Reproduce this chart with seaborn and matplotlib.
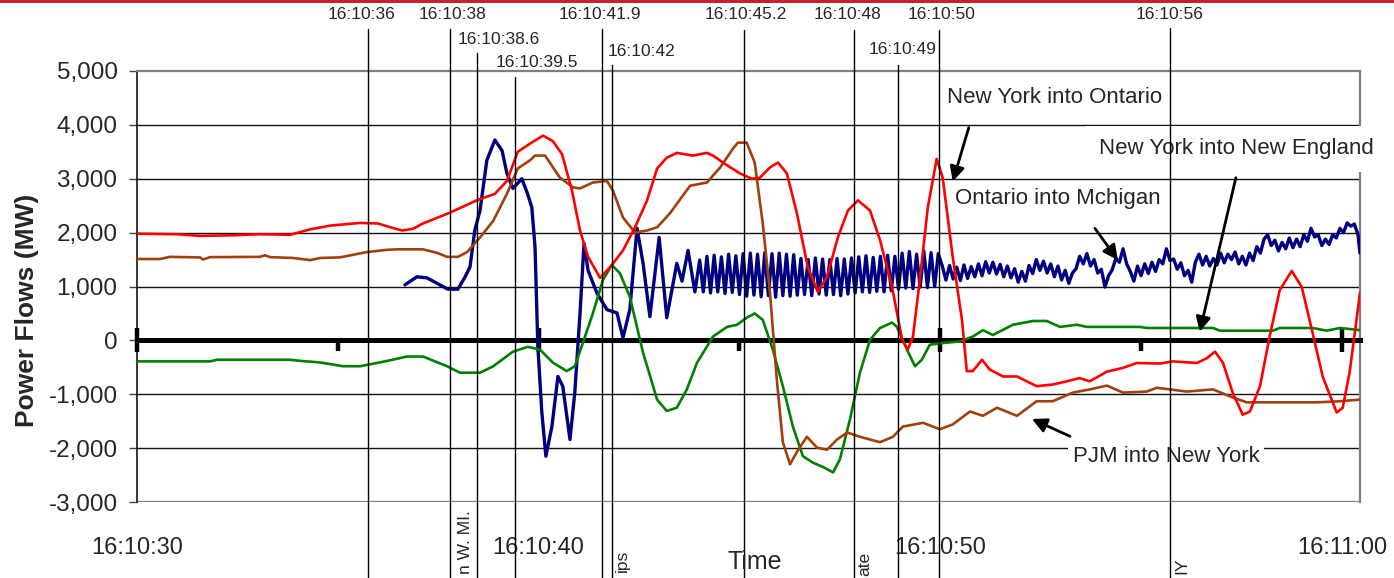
import numpy as np
import seaborn as sns
import matplotlib.pyplot as plt
import matplotlib.transforms as mtransforms
from matplotlib.patches import Rectangle
from matplotlib.ticker import FuncFormatter, FixedLocator

# time = seconds after 16:10:00, flows in MW
red_t = [30.00, 31.00, 31.57, 32.32, 33.06, 33.81, 34.31, 34.81, 35.55, 36.00, 36.30, 36.60, 36.87,
         37.12, 37.79, 38.46, 38.91, 39.21, 39.48, 39.78, 40.11, 40.35, 40.58, 40.83, 41.03, 41.23,
         41.53, 41.78, 42.10, 42.40, 42.70, 42.95, 43.19, 43.44, 43.84, 44.19, 44.34, 44.69, 45.01,
         45.31, 45.51, 45.76, 45.96, 46.18, 46.43, 46.70, 46.95, 47.18, 47.45, 47.70, 47.95, 48.25,
         48.50, 48.80, 49.05, 49.19, 49.32, 49.49, 49.69, 49.91, 50.06, 50.31, 50.54, 50.66, 50.81,
         51.04, 51.23, 51.56, 51.91, 52.40, 52.80, 53.15, 53.47, 53.72, 54.15, 54.55, 54.89, 55.47,
         55.79, 56.39, 56.64, 56.84, 57.04, 57.28, 57.53, 57.71, 57.96, 58.20, 58.45, 58.75, 59.00,
         59.27, 59.52, 59.87, 60.02, 60.19, 60.45]
red_v = [1980, 1970, 1940, 1950, 1970, 1960, 2060, 2130, 2180, 2170, 2100, 2040, 2070,
         2170, 2370, 2600, 2720, 2960, 3500, 3650, 3800, 3700, 3460, 2780, 2040, 1550,
         1160, 1360, 1670, 2100, 2600, 3190, 3390, 3480, 3430, 3480, 3430, 3250, 3100,
         3000, 3020, 3210, 3300, 3100, 2360, 1360, 900, 1180, 1910, 2410, 2600, 2410,
         1860, 990, 10, -170, 70, 1120, 2470, 3370, 3020, 1550, 380, -570, -570,
         -360, -540, -670, -670, -850, -820, -760, -700, -760, -580, -510, -420, -430,
         -390, -420, -330, -210, -420, -970, -1380, -1320, -850, 70, 930, 1290, 990,
         140, -670, -1340, -1250, -600, 880]

brown_t = [30.00, 30.57, 30.82, 31.57, 31.64, 31.82, 33.06, 33.19, 33.31, 33.88, 34.31, 34.56,
           35.05, 35.73, 36.22, 36.47, 37.12, 37.49, 37.72, 37.99, 38.22, 38.54, 38.87, 39.21,
           39.48, 39.78, 39.91, 40.16, 40.53, 40.86, 41.03, 41.35, 41.70, 41.85, 42.10, 42.40,
           42.70, 42.95, 43.27, 43.77, 44.19, 44.52, 44.84, 44.96, 45.18, 45.38, 45.58, 45.76,
           45.93, 46.08, 46.26, 46.46, 46.68, 46.93, 47.18, 47.43, 47.68, 48.00, 48.50, 48.82,
           49.07, 49.57, 49.99, 50.31, 50.74, 51.06, 51.41, 51.91, 52.40, 52.80, 53.30, 53.72,
           54.15, 54.55, 55.14, 55.39, 56.14, 56.79, 57.28, 57.63, 58.45, 59.38, 59.95, 60.45]
brown_v = [1510, 1510, 1550, 1540, 1500, 1545, 1550, 1580, 1545, 1530, 1490, 1530,
           1540, 1640, 1680, 1690, 1690, 1620, 1550, 1550, 1640, 1910, 2220, 2720,
           3190, 3340, 3430, 3430, 3020, 2840, 2820, 2930, 2960, 2780, 2280, 2000,
           2040, 2100, 2360, 2870, 2930, 3210, 3560, 3670, 3670, 3300, 2170, 880,
           -730, -1890, -2300, -2030, -1790, -1990, -2030, -1840, -1710, -1790, -1890, -1790,
           -1600, -1530, -1650, -1560, -1320, -1400, -1250, -1400, -1130, -1130, -970, -910,
           -840, -970, -950, -880, -950, -910, -1060, -1150, -1150, -1150, -1130, -1100]

green_t = [30.00, 31.82, 31.99, 33.81, 34.06, 34.56, 35.13, 35.55, 35.97, 36.30, 36.72, 37.12,
           37.72, 38.04, 38.54, 38.87, 39.36, 39.73, 40.03, 40.35, 40.70, 40.90, 41.10, 41.35,
           41.60, 41.82, 42.02, 42.27, 42.60, 42.95, 43.19, 43.44, 43.69, 43.94, 44.34, 44.69,
           44.94, 45.18, 45.38, 45.58, 45.83, 46.08, 46.33, 46.58, 46.83, 47.08, 47.33, 47.50,
           47.75, 48.00, 48.25, 48.50, 48.80, 48.92, 49.17, 49.37, 49.54, 49.74, 50.06, 50.49,
           50.81, 51.06, 51.31, 51.81, 52.31, 52.65, 52.98, 53.40, 53.65, 54.97, 55.14, 56.79,
           56.96, 58.28, 58.45, 59.27, 59.62, 59.95, 60.45]
green_v = [-390, -390, -360, -360, -380, -410, -480, -480, -420, -370, -300, -300,
           -480, -600, -600, -480, -210, -120, -170, -410, -570, -480, -50, 500,
           1120, 1400, 1250, 810, -230, -1100, -1310, -1250, -910, -420, 70, 250,
           290, 420, 500, 380, -170, -850, -1600, -2150, -2270, -2350, -2450, -2210,
           -1470, -600, 10, 230, 330, 250, -170, -480, -360, -80, -50, -20,
           70, 190, 100, 290, 360, 360, 250, 290, 250, 250, 230, 230,
           180, 180, 230, 230, 180, 230, 190]

# Ontario into Michigan: irregular start, then the fast swing, then the noisy tail
navy_t = [36.67, 36.97, 37.22, 37.47, 37.74, 37.99, 38.17, 38.29, 38.41, 38.54, 38.71, 38.91,
          39.09, 39.21, 39.36, 39.58, 39.71, 39.83, 39.91, 39.98, 40.08, 40.18, 40.33, 40.48,
          40.60, 40.78, 40.90, 41.03, 41.13, 41.23, 41.45, 41.70, 41.95, 42.10, 42.27, 42.45,
          42.60, 42.77, 43.00, 43.19, 43.44, 43.57, 43.72, 43.89, 44.01]
navy_v = [1030, 1180, 1160, 1060, 950, 950, 1180, 1360, 2040, 2410, 3340, 3720,
          3520, 3100, 2820, 3000, 2750, 2470, 1730, -110, -1340, -2150, -1600, -670,
          -850, -1840, -970, 500, 1800, 1300, 880, 570, 510, 50, 570, 2080,
          1430, 440, 1910, 420, 1430, 1100, 1670, 900, 1490]
navy_osc_start, navy_osc_step = 44.10, 0.09
navy_osc_v = [900, 1560, 880, 1580, 900, 1550, 870, 1600, 890, 1570,
              850, 1610, 820, 1620, 840, 1600, 810, 1630, 830, 1610, 800, 1620, 830, 1600, 820, 1590,
              840, 1520, 850, 1500, 830, 1530, 860, 1510, 840, 1500, 850, 1520, 830, 1510, 860, 1530,
              880, 1550, 900, 1570, 890, 1540, 910, 1560, 900, 1580, 920, 1560,
              950, 1620, 970, 1650, 960, 1600, 990, 1660, 980, 1630, 1000, 1610]
navy_late_start, navy_late_step = 50.05, 0.09
navy_late_v = [1380, 1120, 1390, 1140, 1360, 1110, 1400, 1150, 1370, 1180,
               1420, 1200, 1460, 1250, 1450, 1230, 1410, 1180, 1380, 1160,
               1330, 1080, 1280, 1100, 1390, 1240, 1500, 1300, 1470, 1250,
               1420, 1180, 1380, 1120, 1300, 1060, 1250, 1330, 1560, 1420,
               1610, 1380, 1500, 1250, 1320, 990, 1200, 1310, 1520, 1450,
               1700, 1420, 1280, 1100, 1380, 1200, 1420, 1240, 1450, 1280,
               1500, 1420, 1700, 1480, 1510, 1320, 1440, 1200, 1300, 1080,
               1450, 1600, 1400, 1560, 1380, 1520, 1400, 1620, 1440, 1600,
               1500, 1640, 1420, 1560, 1400, 1620, 1480, 1740, 1620, 1880,
               1960, 1760, 1860, 1660, 1820, 1700, 1900, 1720, 1880, 1740,
               1960, 1840, 2080, 1920, 1960, 1760, 1880, 1780, 1960, 1900,
               2080, 2000, 2180, 2120, 2160, 1960]
navy_tail_t = [60.45]
navy_tail_v = [1620]

ytick_vals = [-3000, -2000, -1000, 0, 1000, 2000, 3000, 4000, 5000]
xtick_vals = [30, 40, 50, 60]
xtick_labels = ["16:10:30", "16:10:40", "16:10:50", "16:11:00"]
minor_ticks = [35, 45, 55]

event_labels = ["16:10:36", "16:10:38", "16:10:38.6", "16:10:39.5", "16:10:41.9", "16:10:42",
                "16:10:45.2", "16:10:48", "16:10:49", "16:10:50", "16:10:56"]
event_t = [35.75, 37.79, 38.46, 39.41, 41.58, 41.82, 45.11, 47.85, 48.94, 49.96, 55.72]

# layout of the event labels (pixel rows from the top, x nudges in pixels)
ev_line_top = [29, 29, 53, 77, 29, 65, 30, 30, 65, 30, 28]
ev_label_y = [15, 15, 39, 63, 15, 52, 15, 15, 50, 15, 15]
ev_label_dx = [-6, 3, 22, 22, -2, 30, 2, -6, 5, 3, 0]

sns.set_style("white")
plt.rcParams['font.family'] = ['Liberation Sans', 'DejaVu Sans']

W, H = 1394, 578
L, R, T, B = 137, 1360, 71, 502
fig = plt.figure(figsize=(W / 100, H / 100), dpi=100)
ax = fig.add_axes([L / W, 1 - B / H, (R - L) / W, (B - T) / H])


def ay(py):
    return (B - py) / (B - T)


navy_all_t = (navy_t
              + list(navy_osc_start + navy_osc_step * np.arange(len(navy_osc_v)))
              + list(navy_late_start + navy_late_step * np.arange(len(navy_late_v)))
              + navy_tail_t)
navy_all_v = navy_v + navy_osc_v + navy_late_v + navy_tail_v

series = [(navy_all_t, navy_all_v, '#000080', 2.4),
          (green_t, green_v, '#008000', 1.9),
          (brown_t, brown_v, '#a0400d', 1.9),
          (red_t, red_v, '#ff0000', 1.9)]
for t, v, c, lw in series:
    sns.lineplot(x=t, y=v, color=c, linewidth=lw, estimator=None, sort=False, ax=ax, zorder=3)

ax.set_xlim(30, 60.45)
ax.set_ylim(-3000, 5000)
ax.set_xlabel('')
ax.set_ylabel('')
ax.grid(False)

for y in ytick_vals[1:-1]:
    if y != 0:
        ax.axhline(y, color='#111111', lw=1.0, zorder=1)
ax.axhline(-3000, color='#7f7f7f', lw=1.6, zorder=1)

ax.yaxis.set_major_locator(FixedLocator(ytick_vals))
ax.yaxis.set_major_formatter(FuncFormatter(lambda v, p: f"{v:,.0f}"))
ax.tick_params(axis='y', left=True, direction='out', length=6, width=1, color='#444444',
               labelsize=17.5, pad=8)

for side in ['top', 'right']:
    ax.spines[side].set_color('#7f7f7f')
    ax.spines[side].set_linewidth(1.6)
ax.spines['left'].set_color('black')
ax.spines['left'].set_linewidth(1.1)
ax.spines['bottom'].set_position(('data', 0))
ax.spines['bottom'].set_color('black')
ax.spines['bottom'].set_linewidth(3.6)

ax.set_xticks(xtick_vals)
ax.set_xticks(minor_ticks, minor=True)
ax.tick_params(axis='x', which='major', bottom=True, direction='inout', length=17, width=3.2,
               color='black', labelbottom=False)
ax.tick_params(axis='x', which='minor', bottom=True, direction='out', length=8, width=3.2,
               color='black')

xtr = ax.get_xaxis_transform()
for t, s in zip(xtick_vals, xtick_labels):
    ax.text(t, ay(548), s, transform=xtr, ha='center', va='center', fontsize=17, clip_on=False)

fig.text(755 / W, 1 - 562 / H, "Time", ha='center', va='center', fontsize=18)
fig.text(27 / W, 1 - 310 / H, "Power Flows (MW)", rotation=90, ha='center', va='center',
         fontsize=19, fontweight='bold')

# event markers
for t, s, top, ly, dx in zip(event_t, event_labels, ev_line_top, ev_label_y, ev_label_dx):
    ax.plot([t, t], [ay(H), ay(top)], transform=xtr, color='black', lw=1.0,
            clip_on=False, zorder=6)
    tr = mtransforms.offset_copy(xtr, fig=fig, x=dx, y=0, units='dots')
    ax.text(t, ay(ly), s, transform=tr, ha='center', va='center', fontsize=12.5, clip_on=False)

for s, px, top in [("n W. MI.", 465, 510), ("ips", 622, 550), ("ate", 865, 552), ("IY", 1182, 558)]:
    fig.text(px / W, 1 - top / H, s, rotation=90, ha='center', va='top', fontsize=12.5)

box = dict(facecolor='white', edgecolor='none', pad=3)
ax.text(52.85, 4500, "New York into Ontario", ha='center', va='center', fontsize=16, zorder=4,
        clip_on=False)
ax.text(52.93, 2630, "Ontario into Mchigan", ha='center', va='center', fontsize=16, zorder=4,
        bbox=box, clip_on=False)
ax.text(57.36, 3560, "New York into New England", ha='center', va='center', fontsize=16, zorder=4,
        bbox=dict(facecolor='white', edgecolor='none', pad=9), clip_on=False)
ax.text(55.62, -2150, "PJM into New York", ha='center', va='center', fontsize=16, zorder=4,
        bbox=box, clip_on=False)

arrow = dict(arrowstyle='-|>', color='black', lw=2.0, mutation_scale=22, shrinkA=0, shrinkB=0)
for tip, tail in [((50.31, 2950), (50.71, 3950)),
                  ((54.42, 1490), (53.85, 2080)),
                  ((56.46, 160), (57.36, 3020)),
                  ((52.28, -1460), (53.23, -1780))]:
    ax.annotate('', xy=tip, xytext=tail, arrowprops=arrow, zorder=5, annotation_clip=False)

fig.add_artist(Rectangle((0, 1 - 3 / H), 1, 3 / H, transform=fig.transFigure,
                         color='#c8202f', lw=0))

fig.savefig('out.png', dpi=100)
